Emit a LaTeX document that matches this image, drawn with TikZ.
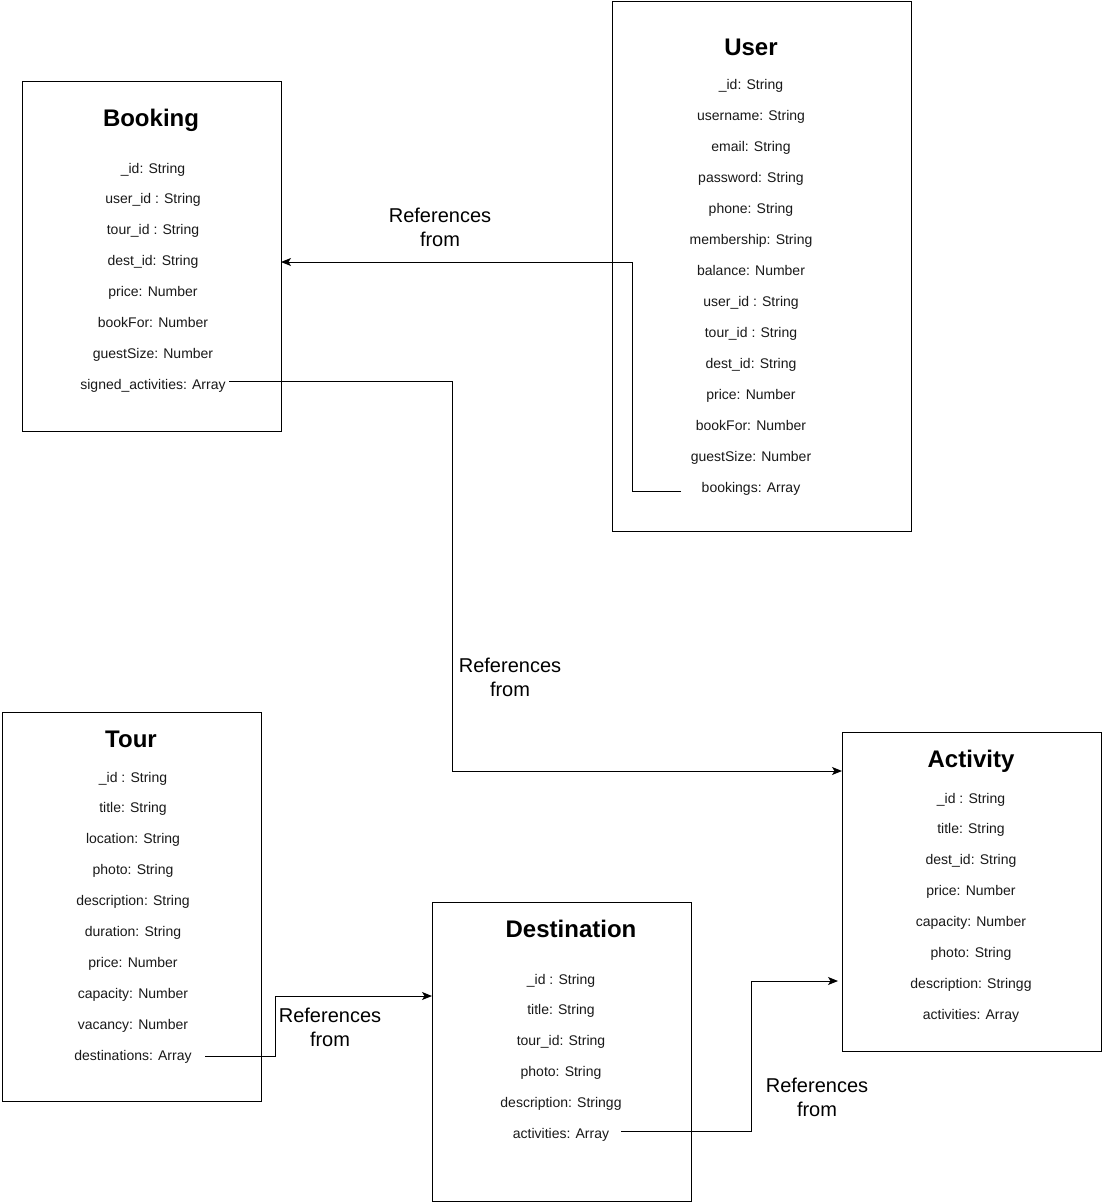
\documentclass[tikz,border=0pt]{standalone}
\usepackage{fontspec}
\setmainfont{Liberation Sans}
\usetikzlibrary{arrows.meta}
\begin{document}
\begin{tikzpicture}[x=1pt,y=-1pt,
  box/.style={draw=black,line width=1pt,rectangle,inner sep=0pt},
  ttl/.style={font=\fontsize{24}{28}\selectfont\bfseries,inner sep=1pt,text height=17pt,text depth=5pt,yshift=-3pt},
  attr/.style={font=\fontsize{14}{16}\selectfont,text=black!90,inner sep=1pt,text height=10pt,text depth=3pt,yshift=-1.5pt},
  lbl/.style={font=\fontsize{20}{24}\selectfont,align=center,inner sep=0pt},
  conn/.style={line width=1pt},
  arr/.style={conn,-{Stealth[length=10pt,width=8pt,inset=2.5pt]}}]
\useasboundingbox (0,0) rectangle (1104,1204);
\fill[white] (0,0) rectangle (1104,1204);
% boxes
\draw[box] (22,82) rectangle (281,431);
\coordinate (bookingR) at (281,262);
\draw[box] (612,2) rectangle (911,531);
\draw[box] (2,712) rectangle (261,1101);
\draw[box] (432,902) rectangle (691,1201);
\coordinate (destL) at (432,996);
\draw[box] (842,732) rectangle (1101,1051);
\coordinate (actL1) at (842,771);
\coordinate (actL2) at (838,981);
% Booking
\node[ttl] (bookingT) at (151,118) {Booking};
\foreach \t [count=\i] in {\_id: String,user\_id : String,tour\_id : String,dest\_id: String,price: Number,bookFor: Number,guestSize: Number}
  \node[attr] (b\i) at (153,168+30.9*\i-30.9) {\t};
\node[attr] (bsigned) at (153,384) {signed\_activities: Array};
% User
\node[ttl] (userT) at (751,47) {User};
\foreach \t [count=\i] in {\_id: String,username: String,email: String,password: String,phone: String,membership: String,balance: Number,user\_id : String,tour\_id : String,dest\_id: String,price: Number,bookFor: Number,guestSize: Number}
  \node[attr] (u\i) at (751,85+30.92*\i-30.92) {\t};
\node[attr] (ubookings) at (751,487) {bookings: Array};
% Tour
\node[ttl] (tourT) at (131,738) {Tour};
\foreach \t [count=\i] in {\_id : String,title: String,location: String,photo: String,description: String,duration: String,price: Number,capacity: Number,vacancy: Number}
  \node[attr] (t\i) at (133,777+30.9*\i-30.9) {\t};
\node[attr] (tdest) at (133,1055) {destinations: Array};
% Destination
\node[ttl] (destT) at (571,928) {Destination};
\foreach \t [count=\i] in {\_id : String,title: String,tour\_id: String,photo: String,description: Stringg}
  \node[attr] (d\i) at (561,979+30.8*\i-30.8) {\t};
\node[attr] (dact) at (561,1133) {activities: Array};
% Activity
\node[ttl] (actT) at (971,758) {Activity};
\foreach \t [count=\i] in {\_id : String,title: String,dest\_id: String,price: Number,capacity: Number,photo: String,description: Stringg,activities: Array}
  \node[attr] (a\i) at (971,798+30.86*\i-30.86) {\t};
% connectors
\coordinate (s1) at (681,491);
\draw[arr] (s1) -- (632,491) -- (632,262) -- (bookingR);
\node[lbl] (l1) at (440,227) {References\\from};
\coordinate (s2) at (229,381);
\draw[arr] (s2) -- (452,381) -- (452,771) -- (actL1);
\node[lbl] (l2) at (510,677) {References\\from};
\coordinate (s3) at (205,1056);
\draw[arr] (s3) -- (275,1056) -- (275,996) -- (destL);
\node[lbl] (l3) at (330,1027) {References\\from};
\coordinate (s4) at (621,1131);
\draw[arr] (s4) -- (751,1131) -- (751,981) -- (actL2);
\node[lbl] (l4) at (817,1097) {References\\from};
\end{tikzpicture}
\end{document}
